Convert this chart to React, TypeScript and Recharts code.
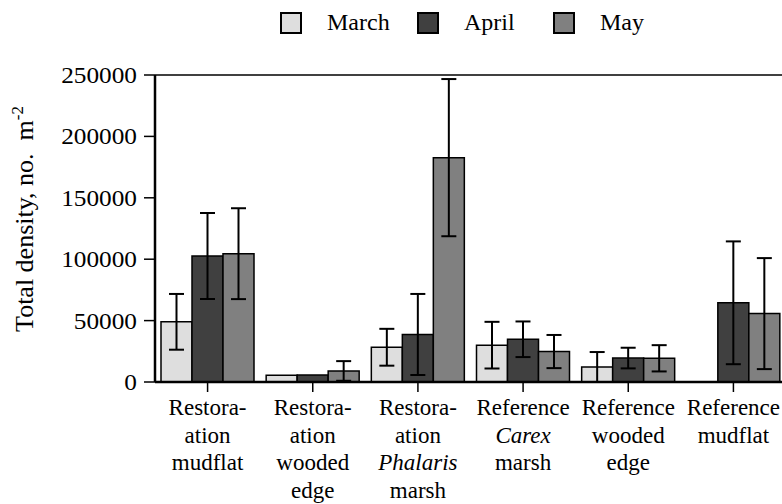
import React from "react";
import { BarChart, Bar, XAxis, YAxis, ErrorBar, ReferenceLine } from "recharts";

const FONT = "'Liberation Serif', 'Times New Roman', serif";

// site labels, one entry per line
const siteLabels = [
  ["Restora-", "ation", "mudflat"],
  ["Restora-", "ation", "wooded", "edge"],
  ["Restora-", "ation", "Phalaris", "marsh"],
  ["Reference", "Carex", "marsh"],
  ["Reference", "wooded", "edge"],
  ["Reference", "mudflat"],
];
const italicWords = ["Phalaris", "Carex"];

const months = ["March", "April", "May"];
const monthColors = ["#dedede", "#404040", "#808080"];

// mean density and SD (no. m^-2)
const marchMean = [49000, 5400, 28300, 30000, 12200, 0];
const marchSd = [22700, null, 15000, 19000, 12200, null];
const aprilMean = [102600, 5700, 38700, 34800, 19500, 64500];
const aprilSd = [35000, null, 33000, 14500, 8400, 50000];
const mayMean = [104500, 9000, 182700, 24800, 19300, 55700];
const maySd = [37000, 8000, 64000, 13500, 10700, 45200];

const yTicks = [0, 50000, 100000, 150000, 200000, 250000];
const yMax = 250000;

const data = siteLabels.map((lines, i) => ({
  site: lines.join(" "),
  march: marchMean[i],
  marchErr: marchSd[i],
  april: aprilMean[i],
  aprilErr: aprilSd[i],
  may: mayMean[i],
  mayErr: maySd[i],
}));

const seriesKeys = ["march", "april", "may"];
const legendX = [280, 417, 553];

// chart geometry (shared by the chart and the label layer)
const W = 790;
const H = 504;
const M = { top: 75, right: 4, bottom: 0, left: 0 };
const Y_AXIS_W = 155;
const X_AXIS_H = 122;
const plotLeft = M.left + Y_AXIS_W;
const plotW = W - plotLeft - M.right;
const plotTop = M.top;
const plotH = H - M.top - M.bottom - X_AXIS_H;
const band = plotW / siteLabels.length;

// tick text drawn inside the chart svg kept falling back to sans,
// so the axis draws only the tick marks and the text sits in the overlay
const NoText = () => <g />;

export default function App() {
  return (
    <div style={{ position: "absolute", left: 0, top: 0, width: 782, height: 504, overflow: "hidden", background: "#fff" }}>
      <BarChart width={W} height={H} data={data} margin={M} barGap={0} barCategoryGap={6}>
        <XAxis
          dataKey="site"
          interval={0}
          height={X_AXIS_H}
          tickSize={10}
          axisLine={{ stroke: "#000", strokeWidth: 2.5 }}
          tickLine={{ stroke: "#000", strokeWidth: 1.5 }}
          tick={<NoText />}
        />
        <YAxis
          width={Y_AXIS_W}
          domain={[0, yMax]}
          ticks={yTicks}
          interval={0}
          tickSize={11}
          axisLine={{ stroke: "#000", strokeWidth: 2.5 }}
          tickLine={{ stroke: "#000", strokeWidth: 1.5 }}
          tick={<NoText />}
        />
        <ReferenceLine y={yMax} stroke="#000" strokeWidth={1.5} />
        {seriesKeys.map((k, i) => (
          <Bar
            key={k}
            dataKey={k}
            name={months[i]}
            fill={monthColors[i]}
            stroke="#000"
            strokeWidth={1.5}
            isAnimationActive={false}
          >
            <ErrorBar dataKey={k + "Err"} width={7.5} stroke="#000" strokeWidth={2} isAnimationActive={false} />
          </Bar>
        ))}
      </BarChart>
      <svg width={782} height={504} style={{ position: "absolute", left: 0, top: 0, pointerEvents: "none" }}>
        {months.map((m, i) => (
          <g key={m}>
            <rect x={legendX[i] + 1} y={13} width={20} height={20} fill={monthColors[i]} stroke="#000" strokeWidth={2} />
            <text x={legendX[i] + 47} y={30} fill="#000" fontFamily={FONT} fontSize={24}>
              {m}
            </text>
          </g>
        ))}
        {siteLabels.map((lines, i) =>
          lines.map((ln, j) => (
            <text
              key={i + "-" + j}
              x={plotLeft + band * (i + 0.5)}
              y={plotTop + plotH + 33 + j * 27.7}
              textAnchor="middle"
              fill="#000"
              fontFamily={FONT}
              fontSize={23}
              fontStyle={italicWords.includes(ln) ? "italic" : "normal"}
            >
              {ln}
            </text>
          ))
        )}
        {yTicks.map((v) => (
          <g key={v} transform={`translate(${plotLeft - 18} ${plotTop + plotH * (1 - v / yMax)}) scale(1.1 1)`}>
            <text x={0} y={0} dy={8} textAnchor="end" fill="#000" fontFamily={FONT} fontSize={23}>
              {v}
            </text>
          </g>
        ))}
        <g transform="translate(33 219) rotate(-90)">
          <text x={0} y={0} textAnchor="middle" fill="#000" fontFamily={FONT} fontSize={26}>
            Total density, no.{"\u00a0\u00a0"}m
            <tspan dy={-10} fontSize={17}>-2</tspan>
          </text>
        </g>
      </svg>
    </div>
  );
}
